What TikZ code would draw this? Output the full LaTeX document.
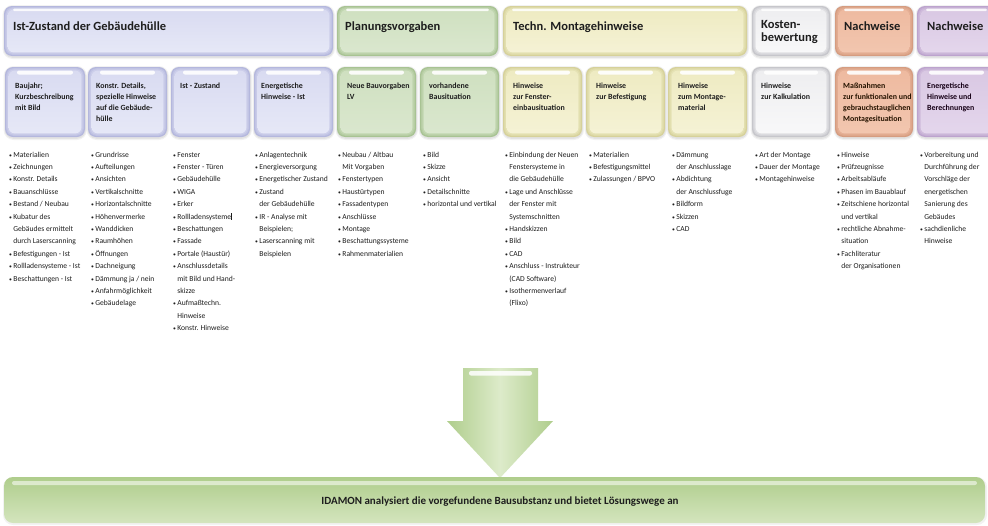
\documentclass[tikz,border=0pt]{standalone}
\usepackage{fontspec}
\setmainfont{Carlito}
\definecolor{lavrim}{HTML}{B4B7DD}
\definecolor{lavtop}{HTML}{D9DBF1}
\definecolor{lavbot}{HTML}{E6E8F7}
\definecolor{grnrim}{HTML}{A8C393}
\definecolor{grntop}{HTML}{CFE0C0}
\definecolor{grnbot}{HTML}{DAE7CE}
\definecolor{ylwrim}{HTML}{D6D19A}
\definecolor{ylwtop}{HTML}{EEEBC2}
\definecolor{ylwbot}{HTML}{F5F2D5}
\definecolor{wrim}{HTML}{C6C6CB}
\definecolor{wtop}{HTML}{EEEEF0}
\definecolor{wbot}{HTML}{F8F8F9}
\definecolor{orgrim}{HTML}{D59C80}
\definecolor{orgtop}{HTML}{EEBAA0}
\definecolor{orgbot}{HTML}{F2C6AF}
\definecolor{purrim}{HTML}{BCA3CD}
\definecolor{purtop}{HTML}{D9C8E3}
\definecolor{purbot}{HTML}{E4D6EC}
\definecolor{txt}{HTML}{1E1E1E}
\definecolor{arrA}{HTML}{AFCD8C}
\definecolor{arrB}{HTML}{DDEBCA}
% soft glossy box: x1 y1 x2 y2 colour ; highlight inset
\newcommand{\softbox}[5]{%
  \fill[black,opacity=.05,rounded corners=10] (#1-1.5,#2-1) rectangle (#3+2,#4+3);
  \fill[black,opacity=.06,rounded corners=9] (#1-0.5,#2) rectangle (#3+1,#4+1.8);
  \fill[#5rim,rounded corners=8] (#1,#2) rectangle (#3,#4);
  \fill[#5rim!65!#5top,rounded corners=7.3] (#1+1.2,#2+1.2) rectangle (#3-1.2,#4-1.2);
  \fill[#5rim!35!#5top,rounded corners=6.6] (#1+2.4,#2+2.4) rectangle (#3-2.4,#4-2.4);
  \shade[top color=#5top,bottom color=#5bot,rounded corners=6] (#1+3.6,#2+3.6) rectangle (#3-3.6,#4-3.6);
}
\newcommand{\hdbox}[5]{%
  \softbox{#1}{#2}{#3}{#4}{#5}
  \fill[white,opacity=.85,rounded corners=1.3] (#1+9,#2+2.6) rectangle (#3-9,#2+5.2);
}
\newcommand{\sbbox}[5]{%
  \softbox{#1}{#2}{#3}{#4}{#5}
  \fill[white,opacity=.9,rounded corners=2] (#1+12,#2+3.5) rectangle (#3-12,#2+7.5);
}
\newcommand{\bu}{\makebox[4.2pt][l]{\scalebox{0.75}{•}}}
\newcommand{\ct}{\hspace*{4.2pt}}
\tikzset{
  hd/.style={anchor=base west,inner sep=0,text=txt,font=\fontsize{12.5}{12.5}\selectfont\bfseries},
  st/.style={anchor=base west,inner sep=0,text=txt,font=\fontsize{7.9}{11}\selectfont\bfseries},
  lst/.style={anchor=base west,inner sep=0,text=txt,font=\fontsize{7.6}{12.4}\selectfont},
}
\begin{document}
\begin{tikzpicture}[x=1pt,y=-1pt]
\clip (0,0) rectangle (988,525);
\fill[white] (0,0) rectangle (988,525);
% header boxes
\hdbox{4}{6}{333}{56}{lav}
\hdbox{337}{6}{498}{56}{grn}
\hdbox{503}{6}{747}{56}{ylw}
\hdbox{752}{6}{830}{56}{w}
\hdbox{835}{6}{913}{56}{org}
\hdbox{917}{6}{996}{56}{pur}
% sub boxes
\sbbox{5}{67}{85}{137}{lav}
\sbbox{88}{67}{167}{137}{lav}
\sbbox{171}{67}{250}{137}{lav}
\sbbox{254}{67}{333}{137}{lav}
\sbbox{337}{67}{416}{137}{grn}
\sbbox{420}{67}{499}{137}{grn}
\sbbox{503}{67}{582}{137}{ylw}
\sbbox{586}{67}{665}{137}{ylw}
\sbbox{668}{67}{747}{137}{ylw}
\sbbox{752}{67}{830}{137}{w}
\sbbox{835}{67}{913}{137}{org}
\sbbox{917}{67}{996}{137}{pur}
% header titles
\node[hd] (h1) at (13,30) {Ist-Zustand der Gebäudehülle};
\node[hd] (h2) at (345,30) {Planungsvorgaben};
\node[hd] (h3) at (513,30) {Techn. Montagehinweise};
\node[hd] (h4) at (761,28.5) {\parbox[t]{66pt}{Kosten-\\bewertung}};
\node[hd] (h5) at (844,30) {Nachweise};
\node[hd] (h6) at (927,30) {Nachweise};
% sub titles
\node[st] (s1) at (15,88) {\parbox[t]{74pt}{\raggedright Baujahr;\\Kurzbeschreibung\\mit Bild}};
\node[st] (s2) at (96,88) {\parbox[t]{74pt}{\raggedright Konstr. Details,\\spezielle Hinweise\\auf die Gebäude-\\hülle}};
\node[st] (s3) at (180,88) {\parbox[t]{74pt}{\raggedright Ist - Zustand}};
\node[st] (s4) at (261,88) {\parbox[t]{74pt}{\raggedright Energetische\\Hinweise - Ist}};
\node[st] (s5) at (347,88) {\parbox[t]{74pt}{\raggedright Neue Bauvorgaben\\LV}};
\node[st] (s6) at (429,88) {\parbox[t]{74pt}{\raggedright vorhandene\\Bausituation}};
\node[st] (s7) at (513,88) {\parbox[t]{74pt}{\raggedright Hinweise\\zur Fenster-\\einbausituation}};
\node[st] (s8) at (596,88) {\parbox[t]{74pt}{\raggedright Hinweise\\zur Befestigung}};
\node[st] (s9) at (678,88) {\parbox[t]{74pt}{\raggedright Hinweise\\zum Montage-\\material}};
\node[st] (s10) at (761,88) {\parbox[t]{74pt}{\raggedright Hinweise\\zur Kalkulation}};
\node[st,text=black!75!orange!60!black] (s11) at (843,88) {\parbox[t]{74pt}{\raggedright Maßnahmen\\zur funktionalen und\\gebrauchstauglichen\\Montagesituation}};
\node[st,text=black!75!violet!70!black] (s12) at (927,88) {\parbox[t]{74pt}{\raggedright Energetische\\Hinweise und\\Berechnungen}};
% lists
\node[lst] (c1) at (9,157) {\parbox[t]{80pt}{\raggedright
\bu Materialien\\ \bu Zeichnungen\\ \bu Konstr. Details\\ \bu Bauanschlüsse\\ \bu Bestand / Neubau\\
\bu Kubatur des\\ \ct Gebäudes ermittelt\\ \ct durch Laserscanning\\
\bu Befestigungen - Ist\\ \bu Rollladensysteme - Ist\\ \bu Beschattungen - Ist}};
\node[lst] (c2) at (91,157) {\parbox[t]{80pt}{\raggedright
\bu Grundrisse\\ \bu Aufteilungen\\ \bu Ansichten\\ \bu Vertikalschnitte\\ \bu Horizontalschnitte\\
\bu Höhenvermerke\\ \bu Wanddicken\\ \bu Raumhöhen\\ \bu Öffnungen\\ \bu Dachneigung\\
\bu Dämmung ja / nein\\ \bu Anfahrmöglichkeit\\ \bu Gebäudelage}};
\node[lst] (c3) at (173,157) {\parbox[t]{80pt}{\raggedright
\bu Fenster\\ \bu Fenster - Türen\\ \bu Gebäudehülle\\ \bu WIGA\\ \bu Erker\\
\bu Rollladensysteme\rule[-0.5pt]{0.5pt}{7pt}\\ \bu Beschattungen\\ \bu Fassade\\ \bu Portale (Haustür)\\
\bu Anschlussdetails\\ \ct mit Bild und Hand-\\ \ct skizze\\
\bu Aufmaßtechn.\\ \ct Hinweise\\ \bu Konstr. Hinweise}};
\node[lst] (c4) at (255,157) {\parbox[t]{80pt}{\raggedright
\bu Anlagentechnik\\ \bu Energieversorgung\\ \bu Energetischer Zustand\\
\bu Zustand\\ \ct der Gebäudehülle\\ \bu IR - Analyse mit\\ \ct Beispielen;\\
\bu Laserscanning mit\\ \ct Beispielen}};
\node[lst] (c5) at (338,157) {\parbox[t]{80pt}{\raggedright
\bu Neubau / Altbau\\ \ct Mit Vorgaben\\ \bu Fenstertypen\\ \bu Haustürtypen\\ \bu Fassadentypen\\
\bu Anschlüsse\\ \bu Montage\\ \bu Beschattungssysteme\\ \bu Rahmenmaterialien}};
\node[lst] (c6) at (423,157) {\parbox[t]{80pt}{\raggedright
\bu Bild\\ \bu Skizze\\ \bu Ansicht\\ \bu Detailschnitte\\ \bu horizontal und vertikal}};
\node[lst] (c7) at (505,157) {\parbox[t]{82pt}{\raggedright
\bu Einbindung der Neuen\\ \ct Fenstersysteme in\\ \ct die Gebäudehülle\\
\bu Lage und Anschlüsse\\ \ct der Fenster mit\\ \ct Systemschnitten\\
\bu Handskizzen\\ \bu Bild\\ \bu CAD\\
\bu Anschluss - Instrukteur\\ \ct (CAD Software)\\
\bu Isothermenverlauf\\ \ct (Flixo)}};
\node[lst] (c8) at (589,157) {\parbox[t]{80pt}{\raggedright
\bu Materialien\\ \bu Befestigungsmittel\\ \bu Zulassungen / BPVO}};
\node[lst] (c9) at (672,157) {\parbox[t]{80pt}{\raggedright
\bu Dämmung\\ \ct der Anschlusslage\\ \bu Abdichtung\\ \ct der Anschlussfuge\\
\bu Bildform\\ \bu Skizzen\\ \bu CAD}};
\node[lst] (c10) at (755,157) {\parbox[t]{80pt}{\raggedright
\bu Art der Montage\\ \bu Dauer der Montage\\ \bu Montagehinweise}};
\node[lst] (c11) at (837,157) {\parbox[t]{80pt}{\raggedright
\bu Hinweise\\ \bu Prüfzeugnisse\\ \bu Arbeitsabläufe\\ \bu Phasen im Bauablauf\\
\bu Zeitschiene horizontal\\ \ct und vertikal\\ \bu rechtliche Abnahme-\\ \ct situation\\
\bu Fachliteratur\\ \ct der Organisationen}};
\node[lst] (c12) at (920,157) {\parbox[t]{70pt}{\raggedright
\bu Vorbereitung und\\ \ct Durchführung der\\ \ct Vorschläge der\\ \ct energetischen\\
\ct Sanierung des\\ \ct Gebäudes\\ \bu sachdienliche\\ \ct Hinweise}};
% big arrow
\shade[left color=arrA,right color=arrA,middle color=arrB]
  (463,368) -- (538,368) -- (538,421) -- (553,421) -- (500,478) -- (447,421) -- (463,421) -- cycle;
\fill[white,opacity=.85,rounded corners=2] (469,371) rectangle (532,375.5);
% bottom bar
\fill[black,opacity=.05,rounded corners=10] (3,477) rectangle (987,525);
\shade[top color=arrA,bottom color=arrB!80!arrA,rounded corners=9] (4,477) rectangle (985,523);
\fill[white,opacity=.55,rounded corners=2] (12,481) rectangle (977,485);
\node[anchor=center,inner sep=0,text=txt,font=\fontsize{11}{12}\selectfont\bfseries] (bar) at (500,502)
  {IDAMON analysiert die vorgefundene Bausubstanz und bietet Lösungswege an};
\end{tikzpicture}
\end{document}
